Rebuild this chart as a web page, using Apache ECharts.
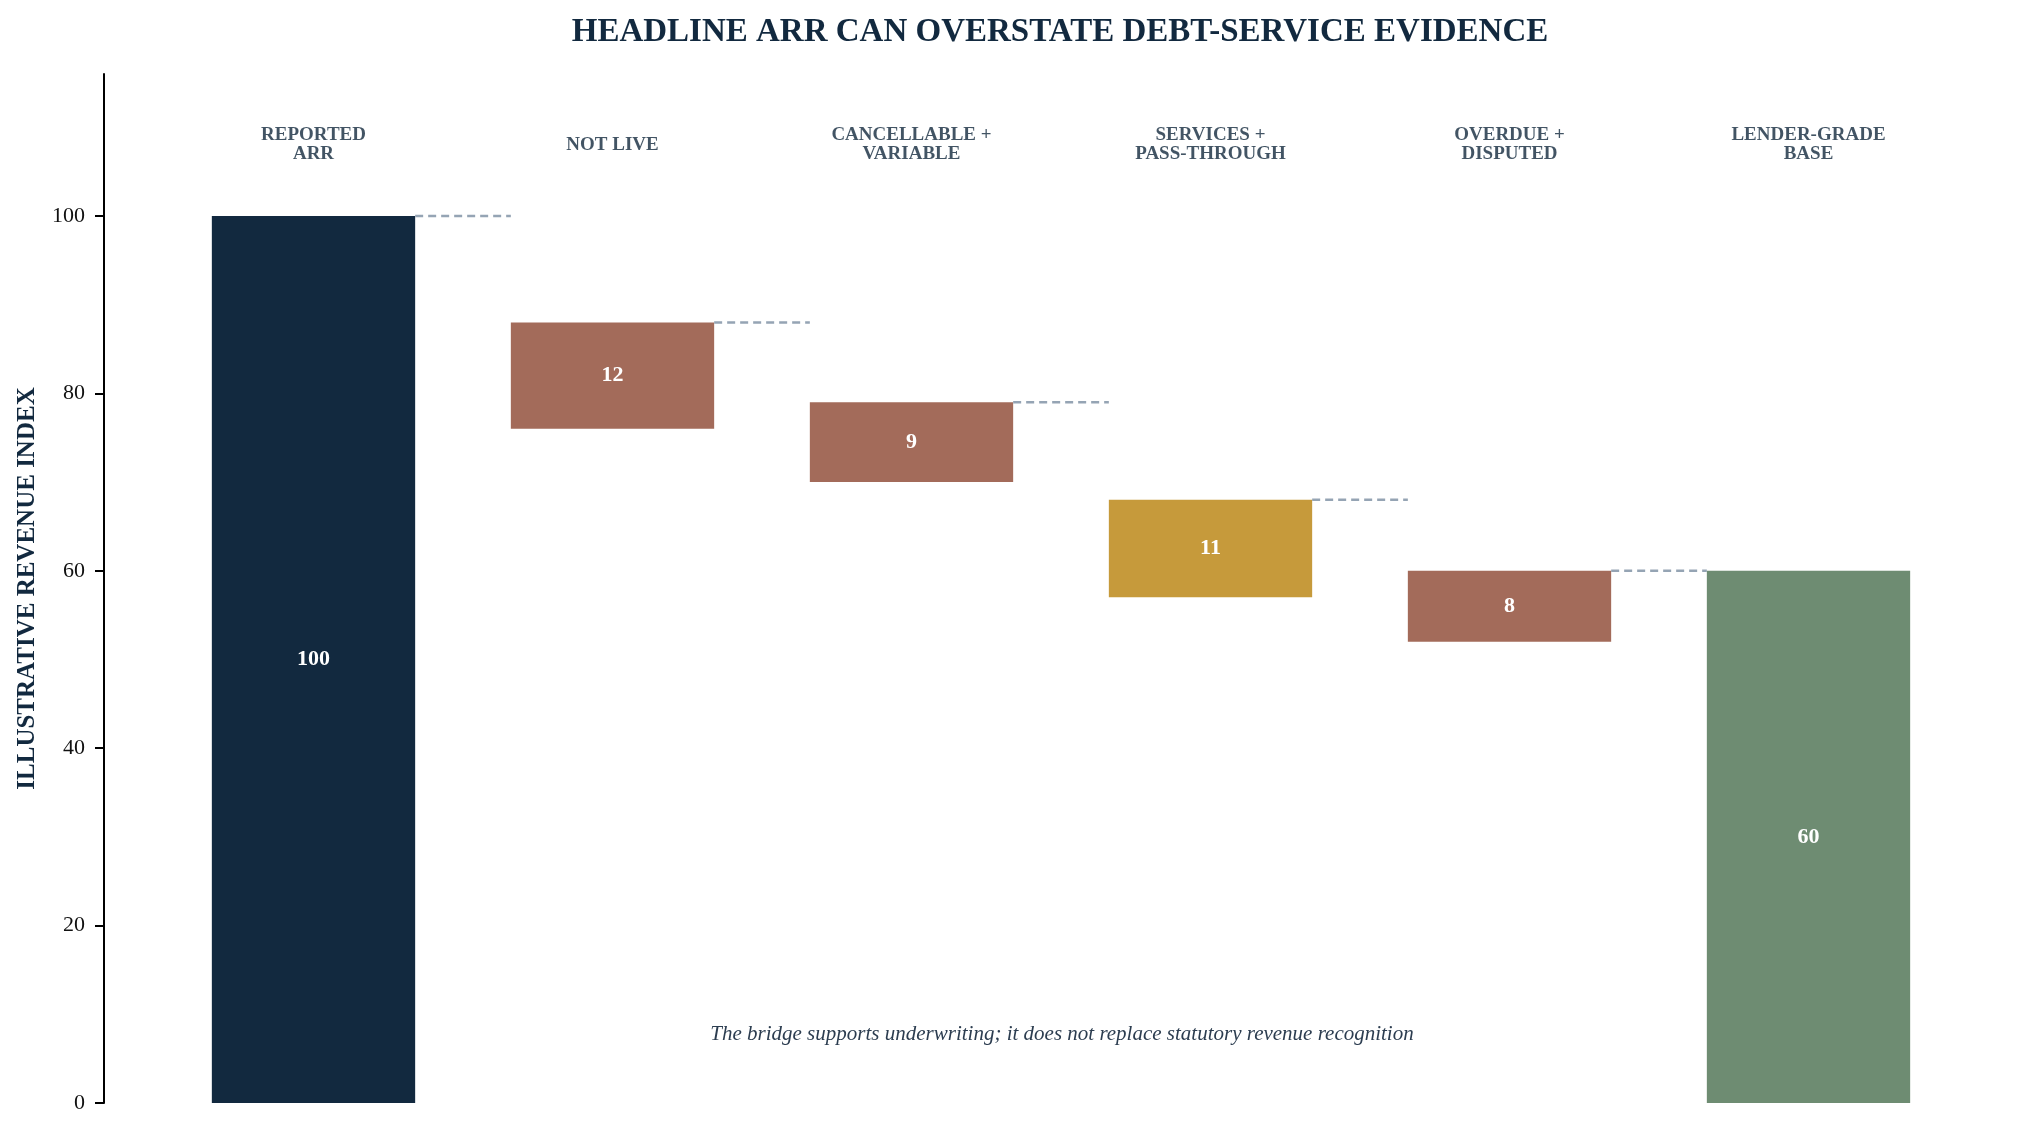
<!DOCTYPE html>
<html>
<head>
<meta charset="utf-8">
<title>Headline ARR bridge</title>
<script src="https://cdn.jsdelivr.net/npm/echarts@6/dist/echarts.min.js"></script>
<style>
  html, body { margin: 0; padding: 0; background: #ffffff; }
  #main { width: 2034px; height: 1134px; }
</style>
</head>
<body>
<div id="main"></div>
<script>
// bridge steps
var categories = ['REPORTED\nARR', 'NOT LIVE', 'CANCELLABLE +\nVARIABLE', 'SERVICES +\nPASS-THROUGH', 'OVERDUE +\nDISPUTED', 'LENDER-GRADE\nBASE'];
var amounts = [100, 12, 9, 11, 8, 60];
var barBase = [0, 76, 70, 57, 52, 0];
var yTicks = [0, 20, 40, 60, 80, 100];
var labelLevel = 108;
var footnote = 'The bridge supports underwriting; it does not replace statutory revenue recognition';

var SERIF = "'Liberation Serif', 'Times New Roman', serif";
var NAVY = '#12293f';
var barColors = ['#12293f', '#a36b5a', '#a36b5a', '#c69a3b', '#a36b5a', '#6e8c72'];

// connector level = top of each bar, carried to the next bar
var connectors = [];
for (var i = 0; i < amounts.length - 1; i++) {
    connectors.push([i, barBase[i] + amounts[i]]);
}
var labelPoints = [];
for (var j = 0; j < categories.length; j++) {
    labelPoints.push([j, labelLevel]);
}

var myChart = echarts.init(document.getElementById('main'));
var option = {
    backgroundColor: '#ffffff',
    animation: false,
    title: {
        text: 'HEADLINE ARR CAN OVERSTATE DEBT-SERVICE EVIDENCE',
        left: 1055,
        top: 11,
        textAlign: 'center',
        textStyle: {
            fontFamily: SERIF,
            fontWeight: 'bold',
            fontSize: 33,
            color: NAVY
        }
    },
    grid: {
        left: 164,
        right: 76,
        top: 74,
        bottom: 31
    },
    xAxis: {
        type: 'category',
        data: categories,
        axisLine: { show: false },
        axisTick: { show: false },
        axisLabel: { show: false },
        splitLine: { show: false }
    },
    yAxis: {
        type: 'value',
        min: 0,
        max: 116,
        interval: 20,
        offset: 60,
        name: 'ILLUSTRATIVE REVENUE INDEX',
        nameLocation: 'middle',
        nameGap: 64,
        nameTextStyle: {
            fontFamily: SERIF,
            fontWeight: 'bold',
            fontSize: 25,
            color: NAVY
        },
        axisLine: { show: true, lineStyle: { color: '#000000', width: 2 } },
        axisTick: {
            show: true,
            length: 9,
            customValues: yTicks,
            lineStyle: { color: '#000000', width: 2 }
        },
        axisLabel: {
            fontFamily: SERIF,
            fontSize: 22,
            color: '#111111',
            margin: 19,
            customValues: yTicks
        },
        splitLine: { show: false }
    },
    series: [
        {
            name: 'base',
            type: 'bar',
            stack: 'bridge',
            barWidth: '68%',
            silent: true,
            itemStyle: { color: 'rgba(0,0,0,0)' },
            data: barBase
        },
        {
            name: 'amount',
            type: 'bar',
            stack: 'bridge',
            barWidth: '68%',
            data: amounts.map(function (v, k) {
                return { value: v, itemStyle: { color: barColors[k] } };
            }),
            label: {
                show: true,
                position: 'inside',
                fontFamily: SERIF,
                fontWeight: 'bold',
                fontSize: 22,
                color: '#ffffff'
            }
        },
        {
            name: 'connectors',
            type: 'custom',
            silent: true,
            data: connectors,
            renderItem: function (params, api) {
                var idx = api.value(0);
                var level = api.value(1);
                var half = api.size([1, 0])[0] * 0.34;
                var p1 = api.coord([idx, level]);
                var p2 = api.coord([idx + 1, level]);
                return {
                    type: 'line',
                    shape: { x1: p1[0] + half, y1: p1[1], x2: p2[0] - half, y2: p2[1] },
                    style: { stroke: '#95a4b4', lineWidth: 2.5, lineDash: [8, 5] }
                };
            },
            z: 3
        },
        {
            name: 'stepLabels',
            type: 'scatter',
            silent: true,
            symbolSize: 0,
            data: labelPoints,
            label: {
                show: true,
                position: 'inside',
                formatter: function (p) { return categories[p.dataIndex]; },
                fontFamily: SERIF,
                fontWeight: 'bold',
                fontSize: 19,
                lineHeight: 19,
                color: '#13293d',
                align: 'center',
                verticalAlign: 'middle'
            }
        }
    ],
    graphic: [
        {
            type: 'text',
            x: 1062,
            y: 1034,
            style: {
                text: footnote,
                fontFamily: SERIF,
                fontStyle: 'italic',
                fontSize: 21,
                fill: '#2c3d50',
                textAlign: 'center',
                textVerticalAlign: 'middle'
            }
        }
    ]
};
myChart.setOption(option);
</script>
</body>
</html>
